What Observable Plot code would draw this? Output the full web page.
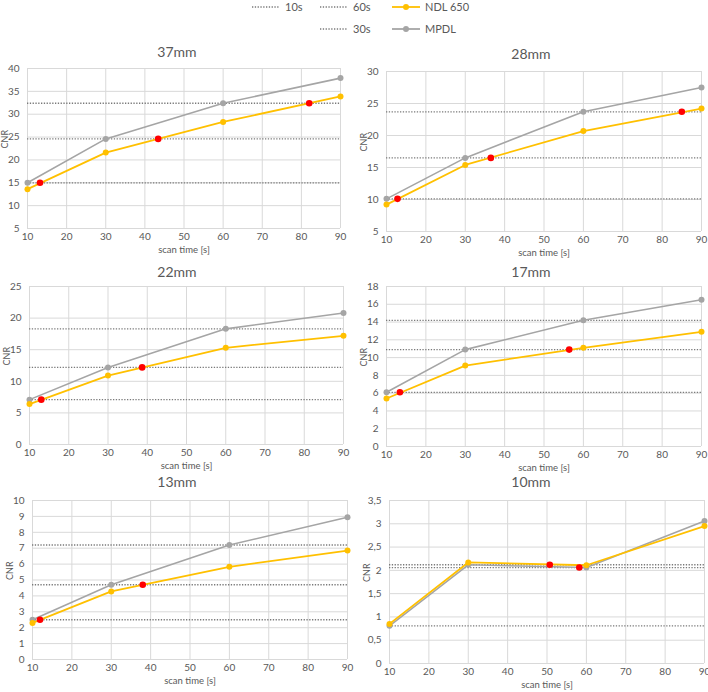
<!DOCTYPE html>
<html>
<head>
<meta charset="utf-8">
<script src="https://cdn.jsdelivr.net/npm/d3@7"></script>
<script src="https://cdn.jsdelivr.net/npm/@observablehq/plot@0.6"></script>
<style>
  body { margin: 0; background: white; font-family: Lato, "Open Sans", sans-serif; }
  #wrap { position: relative; width: 708px; height: 692px; background: white; overflow: hidden; }
  .title { position: absolute; width: 354px; text-align: center; font-size: 14px; line-height: 18px; color: #595959; }
  .panel { position: absolute; }
  .panel svg { overflow: visible; }
  #legend { position: absolute; left: 0; top: 0; }
</style>
</head>
<body>
<div id="wrap"></div>
<script>
// ---- data ----
const times = [10, 30, 60, 90];
const panelTitles = ["37mm", "28mm", "22mm", "17mm", "13mm", "10mm"];
const seriesNames = ["NDL 650", "MPDL"];
const levelNames = ["10s", "30s", "60s"];

const mpdl37 = [15.0, 24.6, 32.4, 37.9];
const ndl37  = [13.6, 21.6, 28.3, 33.9];
const lev37  = [15.0, 24.6, 32.4];
const redX37 = [13.2, 43.4, 82.0];
const redY37 = [15.0, 24.6, 32.4];

const mpdl28 = [10.1, 16.5, 23.7, 27.5];
const ndl28  = [9.2, 15.4, 20.7, 24.2];
const lev28  = [10.1, 16.5, 23.7];
const redX28 = [12.8, 36.5, 85.0];
const redY28 = [10.1, 16.5, 23.7];

const mpdl22 = [7.1, 12.2, 18.3, 20.8];
const ndl22  = [6.4, 10.9, 15.3, 17.2];
const lev22  = [7.1, 12.2, 18.3];
const redX22 = [13.0, 38.7];
const redY22 = [7.1, 12.2];

const mpdl17 = [6.1, 10.9, 14.2, 16.5];
const ndl17  = [5.4, 9.1, 11.1, 12.9];
const lev17  = [6.1, 10.9, 14.2];
const redX17 = [13.4, 56.4];
const redY17 = [6.1, 10.9];

const mpdl13 = [2.5, 4.7, 7.2, 8.95];
const ndl13  = [2.3, 4.28, 5.83, 6.85];
const lev13  = [2.5, 4.7, 7.2];
const redX13 = [11.9, 38.0];
const redY13 = [2.5, 4.7];

const mpdl10 = [0.81, 2.12, 2.06, 3.06];
const ndl10  = [0.85, 2.17, 2.11, 2.95];
const lev10  = [0.81, 2.12, 2.06];
const redX10 = [50.7, 58.2];
const redY10 = [2.12, 2.06];

const xTicks = [10, 20, 30, 40, 50, 60, 70, 80, 90];
const yTicks37 = [5, 10, 15, 20, 25, 30, 35, 40];
const yTicks28 = [5, 10, 15, 20, 25, 30];
const yTicks22 = [0, 5, 10, 15, 20, 25];
const yTicks17 = [0, 2, 4, 6, 8, 10, 12, 14, 16, 18];
const yTicks13 = [0, 1, 2, 3, 4, 5, 6, 7, 8, 9, 10];
const yTicks10 = [0, 0.5, 1, 1.5, 2, 2.5, 3, 3.5];

// ---- layout ----
const panels = [
  {title: panelTitles[0], mpdl: mpdl37, ndl: ndl37, lev: lev37, rx: redX37, ry: redY37, yt: yTicks37,
   left: 0, titleY: 52, top: 68, bottom: 228, ml: 27, mr: 14},
  {title: panelTitles[1], mpdl: mpdl28, ndl: ndl28, lev: lev28, rx: redX28, ry: redY28, yt: yTicks28,
   left: 354, titleY: 54, top: 71, bottom: 231, ml: 32, mr: 7},
  {title: panelTitles[2], mpdl: mpdl22, ndl: ndl22, lev: lev22, rx: redX22, ry: redY22, yt: yTicks22,
   left: 0, titleY: 272, top: 286, bottom: 444, ml: 29, mr: 11},
  {title: panelTitles[3], mpdl: mpdl17, ndl: ndl17, lev: lev17, rx: redX17, ry: redY17, yt: yTicks17,
   left: 354, titleY: 272, top: 286, bottom: 446, ml: 32, mr: 7},
  {title: panelTitles[4], mpdl: mpdl13, ndl: ndl13, lev: lev13, rx: redX13, ry: redY13, yt: yTicks13,
   left: 0, titleY: 482, top: 500, bottom: 659, ml: 32, mr: 7},
  {title: panelTitles[5], mpdl: mpdl10, ndl: ndl10, lev: lev10, rx: redX10, ry: redY10, yt: yTicks10,
   left: 354, titleY: 482, top: 500, bottom: 663, ml: 35, mr: 4}
];

const wrap = document.getElementById("wrap");
const textColor = "#595959";
const gridColor = "#d9d9d9";
const fmt = d => String(d).replace(".", ",");

for (const p of panels) {
  const mt = 8, mb = 28;
  const h = mt + (p.bottom - p.top) + mb;
  const mp = times.map((t, i) => ({t, v: p.mpdl[i]}));
  const nd = times.map((t, i) => ({t, v: p.ndl[i]}));
  const red = p.rx.map((x, i) => ({t: x, v: p.ry[i]}));
  const chart = Plot.plot({
    width: 354, height: h,
    marginTop: mt, marginBottom: mb, marginLeft: p.ml, marginRight: p.mr,
    style: {fontFamily: "Lato, 'Open Sans', sans-serif", fontSize: "10px", color: textColor, background: "transparent", overflow: "visible"},
    x: {domain: [10, 90]},
    y: {domain: [p.yt[0], p.yt[p.yt.length - 1]]},
    marks: [
      Plot.gridX(xTicks, {stroke: gridColor, strokeOpacity: 1, strokeWidth: 1}),
      Plot.gridY(p.yt, {stroke: gridColor, strokeOpacity: 1, strokeWidth: 1}),
      Plot.axisX(xTicks, {tickSize: 0, tickPadding: 4, label: null, fill: textColor}),
      Plot.axisY(p.yt, {tickSize: 0, tickPadding: 8, label: null, tickFormat: fmt, fill: textColor}),
      Plot.ruleY(p.lev, {stroke: "#7a7a7a", strokeWidth: 1.3, strokeDasharray: "1.3,1.5"}),
      Plot.line(mp, {x: "t", y: "v", stroke: "#a5a5a5", strokeWidth: 1.6}),
      Plot.dot(mp, {x: "t", y: "v", fill: "#a5a5a5", r: 3}),
      Plot.line(nd, {x: "t", y: "v", stroke: "#ffc000", strokeWidth: 1.8}),
      Plot.dot(nd, {x: "t", y: "v", fill: "#ffc000", r: 3}),
      Plot.dot(red, {x: "t", y: "v", fill: "#ff0000", r: 3.3}),
      Plot.text(["CNR"], {frameAnchor: "left", dx: -22, rotate: -90, fill: textColor, fontSize: 9}),
      Plot.text(["scan time [s]"], {frameAnchor: "bottom", dy: 24, fill: textColor, fontSize: 9.5})
    ]
  });
  const div = document.createElement("div");
  div.className = "panel";
  div.style.left = p.left + "px";
  div.style.top = (p.top - mt) + "px";
  div.appendChild(chart);
  wrap.appendChild(div);

  const t = document.createElement("div");
  t.className = "title";
  t.textContent = p.title;
  t.style.left = p.left + "px";
  t.style.top = (p.titleY - 9) + "px";
  wrap.appendChild(t);
}

// ---- legend ----
const legend = d3.select("#wrap").append("svg")
  .attr("id", "legend").attr("width", 708).attr("height", 40);
const legItems = [
  {x: 252, y: 7, label: levelNames[0], kind: "dot"},
  {x: 320, y: 7, label: levelNames[2], kind: "dot"},
  {x: 320, y: 29, label: levelNames[1], kind: "dot"},
  {x: 392, y: 7, label: seriesNames[0], kind: "line", color: "#ffc000"},
  {x: 392, y: 29, label: seriesNames[1], kind: "line", color: "#a5a5a5"}
];
for (const it of legItems) {
  if (it.kind === "dot") {
    legend.append("line").attr("x1", it.x).attr("x2", it.x + 28).attr("y1", it.y).attr("y2", it.y)
      .attr("stroke", "#7a7a7a").attr("stroke-width", 1.3).attr("stroke-dasharray", "1.3,1.5");
  } else {
    legend.append("line").attr("x1", it.x).attr("x2", it.x + 28).attr("y1", it.y).attr("y2", it.y)
      .attr("stroke", it.color).attr("stroke-width", 1.8);
    legend.append("circle").attr("cx", it.x + 14).attr("cy", it.y).attr("r", 3).attr("fill", it.color);
  }
  legend.append("text").attr("x", it.x + 33).attr("y", it.y).attr("dy", "0.35em")
    .attr("fill", textColor).attr("font-size", 11).attr("font-family", "Lato, 'Open Sans', sans-serif")
    .text(it.label);
}
</script>
</body>
</html>
